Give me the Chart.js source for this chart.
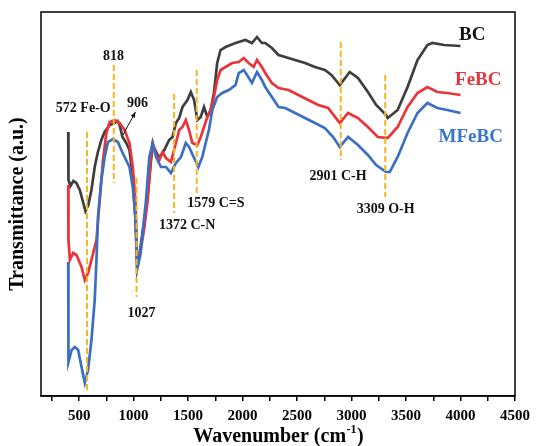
<!DOCTYPE html>
<html lang="en">
<head>
<meta charset="UTF-8">
<title>FTIR - BC / FeBC / MFeBC</title>
<script src="https://cdn.jsdelivr.net/npm/chart.js@4.4.2/dist/chart.umd.min.js"></script>
<style>
  html, body { margin: 0; padding: 0; background: #fff; }
</style>
</head>
<body>
<canvas id="ftir" width="536" height="446"></canvas>
<script>
  // spectra: wavenumber (cm-1) and transmittance (a.u.)
  const bcWn = [400, 402, 420, 447, 474, 506, 558, 584, 613, 643, 670, 704, 734, 780, 826, 853, 871, 898, 932, 962,
    990, 1017, 1032, 1053, 1098, 1125, 1160, 1175, 1208, 1235, 1281, 1326, 1357, 1388, 1418, 1448, 1494, 1525, 1555, 1585,
    1616, 1646, 1676, 1707, 1737, 1767, 1798, 1844, 1935, 2026, 2086, 2132, 2177, 2208, 2269, 2330, 2391, 2482, 2573, 2664,
    2755, 2815, 2892, 2983, 3059, 3150, 3226, 3317, 3332, 3423, 3514, 3605, 3696, 3742, 3849, 4000];
  const bcT = [264, 216, 210, 215, 213, 206, 185, 191, 206, 229, 243, 256, 264, 271, 273, 275, 271, 259, 253, 246,
    221, 176, 128, 141, 176, 196, 236, 251, 244, 238, 246, 256, 259, 273, 278, 289, 296, 304, 296, 276,
    279, 289, 279, 286, 303, 333, 346, 349, 353, 356, 353, 359, 353, 353, 348, 341, 339, 336, 333, 329,
    326, 321, 311, 324, 318, 304, 291, 281, 278, 286, 309, 336, 351, 353, 351, 350];

  const febcWn = [400, 402, 415, 445, 476, 522, 552, 582, 613, 643, 659, 689, 719, 750, 780, 826, 871, 917, 962, 992,
    1017, 1032, 1062, 1098, 1129, 1160, 1175, 1206, 1236, 1266, 1297, 1342, 1388, 1418, 1448, 1479, 1509, 1539, 1585, 1616,
    1646, 1676, 1707, 1737, 1767, 1798, 1844, 1904, 1965, 2010, 2056, 2102, 2132, 2177, 2208, 2269, 2330, 2421, 2512, 2603,
    2694, 2785, 2892, 2968, 3059, 3150, 3241, 3332, 3423, 3514, 3605, 3696, 3787, 3878, 4000];
  const febcT = [211, 156, 136, 143, 141, 129, 116, 123, 136, 149, 156, 196, 236, 263, 274, 276, 273, 266, 253, 229,
    196, 131, 144, 168, 196, 241, 253, 241, 236, 244, 238, 234, 253, 266, 269, 276, 266, 253, 251, 259,
    269, 279, 286, 299, 316, 326, 329, 333, 334, 338, 333, 329, 336, 329, 323, 313, 308, 306, 301, 296,
    291, 288, 273, 283, 278, 269, 259, 258, 269, 289, 303, 309, 304, 303, 301];

  const mfebcWn = [400, 402, 431, 461, 491, 522, 552, 582, 613, 643, 659, 673, 704, 734, 764, 810, 856, 887, 917, 962,
    992, 1017, 1035, 1062, 1083, 1114, 1144, 1175, 1206, 1251, 1297, 1342, 1388, 1434, 1479, 1509, 1555, 1594, 1630, 1661,
    1691, 1722, 1767, 1813, 1874, 1935, 1965, 2010, 2041, 2086, 2132, 2177, 2208, 2269, 2330, 2391, 2482, 2573, 2664, 2755,
    2831, 2892, 2968, 3059, 3150, 3226, 3317, 3351, 3423, 3514, 3605, 3696, 3787, 3878, 4000];
  const mfebcT = [134, 34, 46, 49, 46, 29, 13, 26, 56, 96, 136, 179, 216, 239, 254, 257, 254, 246, 239, 229,
    209, 179, 128, 141, 163, 196, 239, 253, 239, 229, 229, 223, 233, 239, 253, 249, 238, 229, 239, 253,
    266, 286, 299, 303, 306, 311, 323, 326, 321, 313, 324, 316, 309, 299, 289, 288, 283, 278, 273, 268,
    259, 249, 259, 251, 241, 231, 224, 224, 239, 263, 283, 293, 288, 286, 283];

  // marked bands: dashed guide from peakTop down to peakBottom
  const peakWn = [572, 818, 1027, 1372, 1579, 2901, 3309];
  const peakTop = [264, 331, 218, 302, 326, 354, 321];
  const peakBottom = [4, 213, 99, 183, 203, 236, 199];

  const noteText = ['572 Fe-O', '818', '906', '1027', '1372 C-N', '1579 C=S', '2901 C-H', '3309 O-H'];
  const seriesNames = ['BC', 'FeBC', 'MFeBC'];

  const xTicks = [250, 500, 750, 1000, 1250, 1500, 1750, 2000, 2250, 2500, 2750, 3000, 3250, 3500, 3750, 4000, 4250, 4500];
  const xTickLabels = ['', '500', '', '1000', '', '1500', '', '2000', '', '2500', '', '3000', '', '3500', '', '4000', '', '4500'];

  // layout of the texts (data coordinates)
  const noteAt = [[538, 288], [816, 340], [1035, 293], [1072, 83], [1491, 171], [1755, 193], [2876, 220], [3313, 187]];
  const nameAt = [[4108, 361], [4163, 316], [4094, 259]];
  const arrowFrom = [901, 261], arrowTo = [1017, 284];

  const colors = ['#3e3e3e', '#e8343a', '#3a6fc4'];
  const nameColors = ['#111111', '#e8343a', '#3a76c8'];
  const serif = '"Liberation Serif", "Times New Roman", serif';

  const pts = (xs, ys) => xs.map((v, i) => ({ x: v, y: ys[i] }));

  const datasets = [];
  peakWn.forEach((w, i) => {
    datasets.push({
      data: [{ x: w, y: peakTop[i] }, { x: w, y: peakBottom[i] }],
      borderColor: '#f5b622',
      borderWidth: 2,
      borderDash: [6, 3],
      pointRadius: 0,
      order: 0
    });
  });
  [[bcWn, bcT], [febcWn, febcT], [mfebcWn, mfebcT]].forEach((s, i) => {
    datasets.push({
      label: seriesNames[i],
      data: pts(s[0], s[1]),
      borderColor: colors[i],
      borderWidth: 2.7,
      pointRadius: 0,
      tension: 0,
      order: 3 - i
    });
  });

  const decor = {
    id: 'decor',
    afterDatasetsDraw(chart) {
      const { ctx, scales: { x, y } } = chart;
      ctx.save();
      ctx.fillStyle = '#111';
      ctx.textAlign = 'center';
      ctx.textBaseline = 'middle';
      ctx.font = 'bold 14px ' + serif;
      noteText.forEach((t, i) => {
        ctx.fillText(t, x.getPixelForValue(noteAt[i][0]), y.getPixelForValue(noteAt[i][1]));
      });

      // small arrow pointing at 906
      const x0 = x.getPixelForValue(arrowFrom[0]), y0 = y.getPixelForValue(arrowFrom[1]);
      const x1 = x.getPixelForValue(arrowTo[0]), y1 = y.getPixelForValue(arrowTo[1]);
      const a = Math.atan2(y1 - y0, x1 - x0);
      ctx.strokeStyle = '#111';
      ctx.lineWidth = 1;
      ctx.beginPath();
      ctx.moveTo(x0, y0);
      ctx.lineTo(x1, y1);
      ctx.stroke();
      ctx.beginPath();
      ctx.moveTo(x1, y1);
      ctx.lineTo(x1 - 6 * Math.cos(a - 0.4), y1 - 6 * Math.sin(a - 0.4));
      ctx.lineTo(x1 - 6 * Math.cos(a + 0.4), y1 - 6 * Math.sin(a + 0.4));
      ctx.closePath();
      ctx.fill();

      ctx.font = 'bold 19px ' + serif;
      seriesNames.forEach((n, i) => {
        ctx.fillStyle = nameColors[i];
        ctx.fillText(n, x.getPixelForValue(nameAt[i][0]), y.getPixelForValue(nameAt[i][1]));
      });
      ctx.restore();
    },
    afterDraw(chart) {
      const { ctx, chartArea: ca } = chart;
      ctx.save();
      ctx.strokeStyle = '#000';
      ctx.lineWidth = 1.5;
      ctx.strokeRect(ca.left, ca.top, ca.right - ca.left, ca.bottom - ca.top);

      ctx.fillStyle = '#000';
      ctx.textBaseline = 'middle';
      // y title
      ctx.save();
      ctx.translate(18, (ca.top + ca.bottom) / 2);
      ctx.rotate(-Math.PI / 2);
      ctx.textAlign = 'center';
      ctx.font = 'bold 20px ' + serif;
      ctx.fillText('Transmittance (a.u.)', 0, 0);
      ctx.restore();

      // x title with superscript
      const main = 'Wavenumber (cm', sup = '-1', tail = ')';
      const big = 'bold 20px ' + serif, small = 'bold 12px ' + serif;
      ctx.font = big;
      const w1 = ctx.measureText(main).width, w3 = ctx.measureText(tail).width;
      ctx.font = small;
      const w2 = ctx.measureText(sup).width;
      let cx = (ca.left + ca.right) / 2 - (w1 + w2 + w3) / 2;
      const cy = 437;
      ctx.textAlign = 'left';
      ctx.font = big;
      ctx.fillText(main, cx, cy);
      ctx.font = small;
      ctx.fillText(sup, cx + w1 + 0.5, cy - 7);
      ctx.font = big;
      ctx.fillText(tail, cx + w1 + w2 + 1, cy);
      ctx.restore();
    }
  };

  new Chart(document.getElementById('ftir'), {
    type: 'line',
    data: { datasets },
    options: {
      responsive: false,
      animation: false,
      layout: { padding: { left: 41, right: 18, top: 12, bottom: 0 } },
      plugins: { legend: { display: false }, tooltip: { enabled: false } },
      scales: {
        x: {
          type: 'linear',
          min: 150,
          max: 4500,
          afterBuildTicks: (s) => { s.ticks = xTicks.map(v => ({ value: v })); },
          afterFit: (s) => { s.height = 50; },
          ticks: {
            autoSkip: false,
            maxRotation: 0,
            padding: 6,
            color: '#000',
            font: { family: serif, size: 15, weight: 'bold' },
            callback: (v, i) => xTickLabels[i]
          },
          grid: { drawOnChartArea: false, drawTicks: true, tickLength: 5, color: '#000', lineWidth: 1.5 },
          border: { color: '#000', width: 1.5 }
        },
        y: {
          display: false,
          min: 0,
          max: 384
        }
      }
    },
    plugins: [decor]
  });
</script>
</body>
</html>
